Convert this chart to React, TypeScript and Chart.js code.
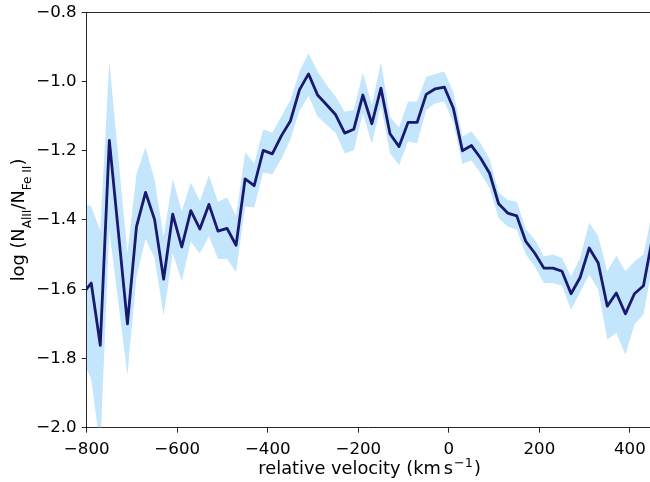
import React, { useEffect, useRef } from "react";
import { Chart, registerables } from "chart.js";

Chart.register(...registerables);

// Velocity grid (km/s)
const velocity = [
  -810, -790, -770, -750, -730, -710, -690, -670, -650, -630, -610, -590, -570, -550, -530, -510,
  -490, -470, -450, -430, -410, -390, -370, -350, -330, -310, -290, -270, -250, -230, -210, -190,
  -170, -150, -130, -110, -90, -70, -50, -30, -10, 10, 30, 50, 70, 90, 110, 130,
  150, 170, 190, 210, 230, 250, 270, 290, 310, 330, 350, 370, 390, 410, 430, 450,
];

// log(N_AlII / N_FeII)
const logRatio = [
  -1.616, -1.582, -1.762, -1.170, -1.435, -1.700, -1.419, -1.320, -1.399, -1.571, -1.383, -1.478, -1.373, -1.426, -1.355, -1.432,
  -1.424, -1.473, -1.281, -1.301, -1.199, -1.209, -1.157, -1.114, -1.024, -0.978, -1.039, -1.067, -1.096, -1.149, -1.138, -1.039,
  -1.122, -1.019, -1.151, -1.188, -1.118, -1.118, -1.037, -1.021, -1.016, -1.077, -1.200, -1.185, -1.221, -1.265, -1.353, -1.380,
  -1.388, -1.462, -1.496, -1.539, -1.539, -1.548, -1.613, -1.566, -1.481, -1.524, -1.649, -1.611, -1.671, -1.613, -1.590, -1.450,
];

const upperBound = [
  -1.350, -1.360, -1.430, -0.942, -1.220, -1.495, -1.267, -1.190, -1.284, -1.449, -1.281, -1.375, -1.292, -1.346, -1.271, -1.347,
  -1.335, -1.388, -1.204, -1.236, -1.138, -1.148, -1.101, -1.053, -0.971, -0.918, -0.971, -1.010, -1.044, -1.087, -1.082, -0.974,
  -1.067, -0.944, -1.101, -1.133, -1.058, -1.058, -0.986, -0.978, -0.971, -1.031, -1.159, -1.144, -1.178, -1.224, -1.320, -1.342,
  -1.347, -1.426, -1.457, -1.505, -1.500, -1.510, -1.563, -1.510, -1.407, -1.447, -1.548, -1.503, -1.548, -1.520, -1.500, -1.370,
];

const lowerBound = [
  -1.800, -1.860, -2.060, -1.430, -1.640, -1.847, -1.563, -1.455, -1.510, -1.676, -1.496, -1.577, -1.462, -1.497, -1.446, -1.513,
  -1.512, -1.551, -1.361, -1.364, -1.263, -1.268, -1.224, -1.167, -1.085, -1.041, -1.101, -1.125, -1.149, -1.207, -1.199, -1.092,
  -1.180, -1.070, -1.207, -1.241, -1.173, -1.178, -1.082, -1.063, -1.058, -1.118, -1.238, -1.228, -1.265, -1.308, -1.395, -1.419,
  -1.428, -1.500, -1.534, -1.582, -1.582, -1.590, -1.659, -1.609, -1.558, -1.601, -1.746, -1.726, -1.789, -1.702, -1.673, -1.530,
];

const xTicks = [-800, -600, -400, -200, 0, 200, 400];
const yTicks = [-2.0, -1.8, -1.6, -1.4, -1.2, -1.0, -0.8];

const FONT = "DejaVu Sans";
const FS = 16.67;
const LFS = 17.8;
const AXIS_COLOR = "rgba(0,0,0,0.85)";

const minus = (s: string) => s.replace("-", "\u2212");

const titlesPlugin = {
  id: "customTitles",
  afterDraw(chart: any) {
    const ctx = chart.ctx as CanvasRenderingContext2D;
    const area = chart.chartArea;
    ctx.save();
    // top spine
    ctx.strokeStyle = AXIS_COLOR;
    ctx.lineWidth = 1;
    ctx.beginPath();
    const ty = Math.round(area.top) + 0.5;
    ctx.moveTo(area.left, ty);
    ctx.lineTo(area.right, ty);
    ctx.stroke();

    ctx.fillStyle = "#000";
    ctx.textBaseline = "alphabetic";
    ctx.textAlign = "left";
    const big = `${LFS}px "${FONT}"`;
    const small = `${LFS * 0.68}px "${FONT}"`;

    type Seg = { t: string; f: string; dy: number; gap?: number };
    const measure = (segs: Seg[]) => {
      let w = 0;
      for (const s of segs) {
        ctx.font = s.f;
        w += (s.gap || 0) + ctx.measureText(s.t).width;
      }
      return w;
    };
    const drawSegs = (segs: Seg[], x0: number, y0: number) => {
      let x = x0;
      for (const s of segs) {
        ctx.font = s.f;
        x += s.gap || 0;
        ctx.fillText(s.t, x, y0 + s.dy);
        x += ctx.measureText(s.t).width;
      }
    };

    // x-axis title
    const xsegs: Seg[] = [
      { t: "relative velocity (km", f: big, dy: 0 },
      { t: "s", f: big, dy: 0, gap: LFS * 0.17 },
      { t: "\u22121", f: `${LFS * 0.72}px "${FONT}"`, dy: -LFS * 0.38, gap: 1 },
      { t: ")", f: big, dy: 0, gap: 1 },
    ];
    const xw = measure(xsegs);
    drawSegs(xsegs, 369.6 - xw / 2, 474);

    // y-axis title (rotated)
    const ysegs: Seg[] = [
      { t: "log (N", f: big, dy: 0 },
      { t: "AlII", f: small, dy: 7 },
      { t: "/N", f: big, dy: 0 },
      { t: "Fe II", f: small, dy: 7 },
      { t: ")", f: big, dy: 0 },
    ];
    const yw = measure(ysegs);
    ctx.translate(23.5, 220);
    ctx.rotate(-Math.PI / 2);
    drawSegs(ysegs, -yw / 2, 0);
    ctx.restore();
  },
};

export default function App() {
  const canvasRef = useRef<HTMLCanvasElement | null>(null);

  useEffect(() => {
    if (!canvasRef.current) return;
    const mk = (arr: number[]) => velocity.map((v, i) => ({ x: v, y: arr[i] }));
    const chart = new Chart(canvasRef.current, {
      type: "line",
      data: {
        datasets: [
          {
            data: mk(logRatio),
            borderColor: "#191970",
            borderWidth: 2.8,
            pointRadius: 0,
            fill: false,
            tension: 0,
            borderJoinStyle: "round",
          },
          {
            data: mk(upperBound),
            borderColor: "transparent",
            borderWidth: 0,
            pointRadius: 0,
            backgroundColor: "rgba(135,206,250,0.5)",
            fill: "+1",
            tension: 0,
          },
          {
            data: mk(lowerBound),
            borderColor: "transparent",
            borderWidth: 0,
            pointRadius: 0,
            fill: false,
            tension: 0,
          },
        ],
      },
      options: {
        animation: false,
        responsive: false,
        maintainAspectRatio: false,
        events: [],
        layout: { padding: { top: 12.3, right: 0, bottom: 0, left: 0 } },
        plugins: { legend: { display: false }, tooltip: { enabled: false } },
        scales: {
          x: {
            type: "linear",
            min: -800,
            max: 444.4,
            afterFit: (s: any) => {
              s.height = 482 - 427.7;
              s.paddingLeft = 0;
              s.paddingRight = 0;
            },
            afterBuildTicks: (s: any) => {
              s.ticks = xTicks.map((v) => ({ value: v }));
            },
            grid: {
              drawOnChartArea: false,
              drawTicks: true,
              tickLength: 5,
              color: AXIS_COLOR,
              lineWidth: 1,
            },
            border: { display: true, color: AXIS_COLOR, width: 1 },
            ticks: {
              autoSkip: false,
              maxRotation: 0,
              padding: 7,
              color: "#000",
              font: { family: FONT, size: FS },
              callback: (v: any) => minus(String(Math.round(Number(v)))),
            },
          },
          y: {
            type: "linear",
            min: -2.0,
            max: -0.8,
            afterFit: (s: any) => {
              s.width = 86.7;
              s.paddingTop = 0;
              s.paddingBottom = 0;
            },
            afterBuildTicks: (s: any) => {
              s.ticks = yTicks.map((v) => ({ value: v }));
            },
            grid: {
              drawOnChartArea: false,
              drawTicks: true,
              tickLength: 5,
              color: AXIS_COLOR,
              lineWidth: 1,
            },
            border: { display: true, color: AXIS_COLOR, width: 1 },
            ticks: {
              autoSkip: false,
              padding: 5,
              color: "#000",
              font: { family: FONT, size: FS },
              callback: (v: any) => minus(Number(v).toFixed(1)),
            },
          },
        },
      },
      plugins: [titlesPlugin],
    } as any);
    return () => chart.destroy();
  }, []);

  return (
    <div style={{ position: "fixed", left: 0, top: 0, width: 650, height: 482, background: "#fff" }}>
      <canvas ref={canvasRef} width={650} height={482} style={{ width: 650, height: 482, display: "block" }} />
    </div>
  );
}
